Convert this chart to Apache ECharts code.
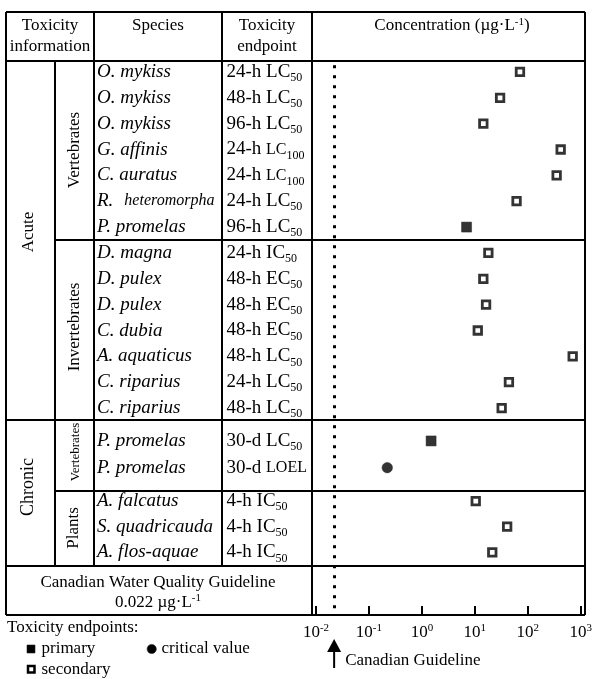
<!DOCTYPE html>
<html><head><meta charset="utf-8">
<script src="https://cdn.jsdelivr.net/npm/echarts@6/dist/echarts.min.js"></script>
<style>html,body{margin:0;padding:0;background:#fff}#c{width:595px;height:679px}</style>
</head><body><div id="c"></div>
<script>
const FONT = '"Liberation Serif","Times New Roman",serif';

// ---------- data ----------
const acuteVertSpecies   = ['O. mykiss','O. mykiss','O. mykiss','G. affinis','C. auratus','R. heteromorpha','P. promelas'];
const acuteVertEndpoints = ['24-h LC_50','48-h LC_50','96-h LC_50','24-h LC_100','24-h LC_100','24-h LC_50','96-h LC_50'];
const acuteVertValues    = [66, 28, 13.6, 382, 321, 57, 6.6];
const acuteVertTypes     = ['secondary','secondary','secondary','secondary','secondary','secondary','primary'];

const acuteInvSpecies    = ['D. magna','D. pulex','D. pulex','C. dubia','A. aquaticus','C. riparius','C. riparius'];
const acuteInvEndpoints  = ['24-h IC_50','48-h EC_50','48-h EC_50','48-h EC_50','48-h LC_50','24-h LC_50','48-h LC_50'];
const acuteInvValues     = [16.9, 13.6, 15.3, 10.7, 641, 41, 30];
const acuteInvTypes      = ['secondary','secondary','secondary','secondary','secondary','secondary','secondary'];

const chronVertSpecies   = ['P. promelas','P. promelas'];
const chronVertEndpoints = ['30-d LC_50','30-d LOEL'];
const chronVertValues    = [1.43, 0.216];
const chronVertTypes     = ['primary','critical'];

const plantSpecies       = ['A. falcatus','S. quadricauda','A. flos-aquae'];
const plantEndpoints     = ['4-h IC_50','4-h IC_50','4-h IC_50'];
const plantValues        = [9.8, 38, 20];
const plantTypes         = ['secondary','secondary','secondary'];

const guidelineValue = 0.022;
const xTickExponents = [-2, -1, 0, 1, 2, 3];

// ---------- layout ----------
const PLOT_L = 316, PLOT_R = 12;
const blocks = [
  {species: acuteVertSpecies, endpoints: acuteVertEndpoints, values: acuteVertValues, types: acuteVertTypes, top: 59,    height: 181},
  {species: acuteInvSpecies,  endpoints: acuteInvEndpoints,  values: acuteInvValues,  types: acuteInvTypes,  top: 240,   height: 181},
  {species: chronVertSpecies, endpoints: chronVertEndpoints, values: chronVertValues, types: chronVertTypes, top: 427.6, height: 53.4},
  {species: plantSpecies,     endpoints: plantEndpoints,     values: plantValues,     types: plantTypes,     top: 488.2, height: 77}
];

const markerStyle = {
  secondary: {symbol: 'rect', symbolSize: 7.5, itemStyle: {color: '#fff', borderColor: '#000', borderWidth: 2.8}},
  primary:   {symbol: 'rect', symbolSize: 10, itemStyle: {color: '#000', borderColor: '#222', borderWidth: 0.6}},
  critical:  {symbol: 'circle', symbolSize: 10.5, itemStyle: {color: '#000', borderColor: '#222', borderWidth: 0.6}}
};

const grids = [], xAxes = [], yAxes = [], series = [];
const txt = {color: '#000', fontFamily: FONT};

function endpointFmt(v) {
  const parts = v.split('_');
  const main = parts[0];
  const sub = parts[1];
  if (main.indexOf('LOEL') >= 0) {
    return '{n|' + main.replace('LOEL', '') + '}{ns|LOEL}';
  }
  if (sub === '100') {
    return '{n|' + main.replace('LC', '') + '}{ns|LC}{sub|' + sub + '}';
  }
  return '{n|' + main + '}' + (sub ? '{sub|' + sub + '}' : '');
}
function speciesFmt(v) {
  if (v === 'R. heteromorpha') return '{i|R.}{gap|}{sm|heteromorpha}';
  return '{i|' + v + '}';
}

blocks.forEach((b, k) => {
  grids.push({left: PLOT_L, right: PLOT_R, top: b.top, height: b.height});
  xAxes.push({type: 'log', logBase: 10, min: 0.01, max: 1000, gridIndex: k, show: false});
  const baseY = {type: 'category', gridIndex: k, inverse: true, data: b.species,
    axisLine: {show: false}, axisTick: {show: false}, splitLine: {show: false}, position: 'left'};
  yAxes.push(Object.assign({}, baseY, {
    data: b.species,
    axisLabel: {interval: 0, align: 'left', margin: 219, formatter: speciesFmt,
      rich: {
        i:  Object.assign({fontSize: 19, fontStyle: 'italic'}, txt),
        gap:{width: 11},
        sm: Object.assign({fontSize: 16, fontStyle: 'italic'}, txt)
      }}
  }));
  yAxes.push(Object.assign({}, baseY, {
    data: b.endpoints,
    axisLabel: {interval: 0, align: 'left', margin: 89.5, formatter: endpointFmt,
      rich: {
        n:   Object.assign({fontSize: 19}, txt),
        ns:  Object.assign({fontSize: 16}, txt),
        sub: Object.assign({fontSize: 12, padding: [12, 0, 0, 0]}, txt)
      }}
  }));
  series.push({
    type: 'scatter', xAxisIndex: k, yAxisIndex: 2 * k, silent: true, z: 5,
    data: b.values.map((v, i) => Object.assign({value: [v, i]}, markerStyle[b.types[i]]))
  });
});

// full-height grid carrying the visible axis and the guideline
grids.push({left: PLOT_L, right: PLOT_R, top: 61, height: 554});
xAxes.push({
  type: 'log', logBase: 10, min: 0.01, max: 1000, gridIndex: 4,
  axisLine: {show: false},
  axisTick: {show: true, inside: true, length: 9, lineStyle: {color: '#000', width: 2}},
  splitLine: {show: false},
  axisLabel: {margin: 8, formatter: function (v) {
      const e = Math.round(Math.log10(v));
      if (xTickExponents.indexOf(e) < 0) return '';
      return '{b|10}{s|' + e + '}';
    },
    rich: {b: Object.assign({fontSize: 17}, txt), s: Object.assign({fontSize: 11, padding: [0, 0, 9, 0]}, txt)}
  }
});
yAxes.push({type: 'value', gridIndex: 4, show: false, min: 0, max: 1});
series.push({
  type: 'scatter', xAxisIndex: 4, yAxisIndex: 8, data: [], silent: true,
  markLine: {symbol: 'none', silent: true, animation: false, label: {show: false},
    lineStyle: {type: [3, 7], width: 3, color: '#000', cap: 'butt'},
    data: [[{xAxis: guidelineValue, yAxis: 0.012}, {xAxis: guidelineValue, yAxis: 1}]]}
});

// ---------- table frame ----------
const frameLines = [
  [6, 12, 585, 12], [6, 615, 585, 615], [6, 12, 6, 615], [585, 12, 585, 615],
  [6, 61, 585, 61], [94, 12, 94, 566], [222, 12, 222, 566], [312, 12, 312, 615], [55, 61, 55, 566],
  [55, 240, 585, 240], [6, 420, 585, 420], [55, 491, 585, 491], [6, 566, 585, 566]
];
const graphics = [];
frameLines.forEach(l => graphics.push({type: 'line', silent: true, z: 10,
  shape: {x1: l[0], y1: l[1], x2: l[2], y2: l[3]}, style: {stroke: '#000', lineWidth: 2}}));

function T(text, x, y, size, opts) {
  return Object.assign({type: 'text', x: x, y: y, silent: true, z: 10,
    style: Object.assign({text: text, fontSize: size, fontFamily: FONT, fill: '#000', align: 'center', verticalAlign: 'middle'}, (opts && opts.style) || {})},
    (opts && opts.el) || {});
}
const supRich = {b: {fontSize: 17, fontFamily: FONT, fill: '#000'}, s: {fontSize: 11, fontFamily: FONT, fill: '#000', padding: [0, 0, 8, 0]}};

graphics.push(T('Toxicity', 50, 26, 17));
graphics.push(T('information', 50, 46.5, 17));
graphics.push(T('Species', 158, 26, 17));
graphics.push(T('Toxicity', 267, 26, 17));
graphics.push(T('endpoint', 267, 46.5, 17));
graphics.push(T('{b|Concentration (µg·L}{s|-1}{b|)}', 452, 26, 17, {style: {rich: supRich}}));
const R = {el: {rotation: Math.PI / 2}};
graphics.push(T('Acute', 28.5, 232, 17, R));
graphics.push(T('Vertebrates', 75, 150, 17, R));
graphics.push(T('Invertebrates', 75, 327, 17, R));
graphics.push(T('Chronic', 28.5, 487, 18, R));
graphics.push(T('Vertebrates', 76, 452, 13, R));
graphics.push(T('Plants', 73.5, 528, 17, R));
graphics.push(T('Canadian Water Quality Guideline', 158, 583, 17));
graphics.push(T('{b|0.022 µg·L}{s|-1}', 158, 602.5, 17, {style: {rich: supRich}}));

// legend
graphics.push(T('Toxicity endpoints:', 7, 627.5, 17, {style: {align: 'left'}}));
graphics.push({type: 'rect', silent: true, shape: {x: 27, y: 645, width: 8, height: 8}, style: {fill: '#000', stroke: '#222', lineWidth: 0.6}});
graphics.push(T('primary', 41.5, 649, 17, {style: {align: 'left'}}));
graphics.push({type: 'circle', silent: true, shape: {cx: 151.7, cy: 649, r: 4.6}, style: {fill: '#000', stroke: '#222', lineWidth: 0.6}});
graphics.push(T('critical value', 161.5, 649, 17, {style: {align: 'left'}}));
graphics.push({type: 'rect', silent: true, shape: {x: 28, y: 666, width: 6.5, height: 6.5}, style: {fill: '#fff', stroke: '#000', lineWidth: 2.5}});
graphics.push(T('secondary', 41.5, 670, 17, {style: {align: 'left'}}));

const chart = echarts.init(document.getElementById('c'), null, {renderer: 'canvas'});
chart.setOption({
  animation: false,
  backgroundColor: '#fff',
  grid: grids, xAxis: xAxes, yAxis: yAxes, series: series,
  graphic: graphics
});

// arrow pointing to the guideline value
const gx = chart.convertToPixel({xAxisIndex: 4}, guidelineValue);
graphics.push({type: 'line', silent: true, shape: {x1: gx, y1: 668, x2: gx, y2: 650}, style: {stroke: '#000', lineWidth: 2}});
graphics.push({type: 'polygon', silent: true, shape: {points: [[gx - 7, 652], [gx + 7, 652], [gx, 639]]}, style: {fill: '#000'}});
graphics.push(T('Canadian Guideline', gx + 11, 661, 17, {style: {align: 'left'}}));
chart.setOption({graphic: graphics});
</script>
</body></html>
